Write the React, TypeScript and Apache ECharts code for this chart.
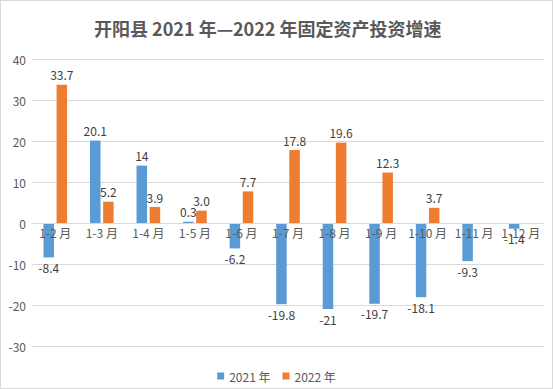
import React, { useEffect, useRef } from "react";
import * as echarts from "echarts";

const categories = ["1-2 月", "1-3 月", "1-4 月", "1-5 月", "1-6 月", "1-7 月", "1-8 月", "1-9 月", "1-10 月", "1-11 月", "1-12 月"];
const values2021 = [-8.4, 20.1, 14, 0.3, -6.2, -19.8, -21, -19.7, -18.1, -9.3, -1.4];
const values2022: (number | null)[] = [33.7, 5.2, 3.9, 3.0, 7.7, 17.8, 19.6, 12.3, 3.7, null, null];
const labels2021 = ["-8.4", "20.1", "14", "0.3", "-6.2", "-19.8", "-21", "-19.7", "-18.1", "-9.3", "-1.4"];
const labels2022 = ["33.7", "5.2", "3.9", "3.0", "7.7", "17.8", "19.6", "12.3", "3.7", "", ""];
const yTicks = [-30, -20, -10, 0, 10, 20, 30, 40];
const seriesNames = ["2021 年", "2022 年"];
const titleText = "开阳县 2021 年—2022 年固定资产投资增速";

const FONT = "'Noto Sans CJK SC', 'Noto Sans', sans-serif";

const GRID_TOP = 58;
const GRID_BOTTOM = 42;
const CHART_H = 387;

function makeData(vals: (number | null)[], labels: string[]) {
  return vals.map((v, i) =>
    v === null
      ? null
      : {
          value: v,
          label: {
            show: true,
            position: v >= 0 ? "top" : "bottom",
            formatter: labels[i],
          },
        }
  );
}

export default function App() {
  const ref = useRef<HTMLDivElement>(null);
  useEffect(() => {
    if (!ref.current) return;
    const chart = echarts.init(ref.current, null, { renderer: "svg" });
    const yMin = yTicks[0];
    const yMax = yTicks[yTicks.length - 1];
    const plotH = CHART_H - GRID_TOP - GRID_BOTTOM;
    const zeroFromBottom = ((0 - yMin) / (yMax - yMin)) * plotH;
    chart.setOption({
      animation: false,
      backgroundColor: "#ffffff",
      title: {
        text: titleText,
        left: 88,
        top: 13,
        textStyle: { fontFamily: FONT, fontSize: 18, fontWeight: "bold", color: "#595959" },
      },
      legend: {
        bottom: 1,
        left: "center",
        itemWidth: 7,
        itemHeight: 7,
        itemGap: 12,
        icon: "rect",
        textStyle: { fontFamily: FONT, fontSize: 12, color: "#595959" },
        data: seriesNames,
      },
      grid: { left: 31, right: 8, top: GRID_TOP, bottom: GRID_BOTTOM },
      xAxis: {
        type: "category",
        data: categories,
        offset: -zeroFromBottom,
        axisLine: { show: true, onZero: false, lineStyle: { color: "#d9d9d9" } },
        axisTick: { show: false },
        axisLabel: { margin: 3, fontFamily: FONT, fontSize: 12, color: "#595959", interval: 0 },
        z: 10,
      },
      yAxis: {
        type: "value",
        min: yMin,
        max: yMax,
        interval: 10,
        axisLine: { show: false },
        axisTick: { show: false },
        splitLine: { lineStyle: { color: "#d9d9d9" } },
        axisLabel: { margin: 6, fontFamily: FONT, fontSize: 12, color: "#595959" },
      },
      series: [
        {
          name: seriesNames[0],
          type: "bar",
          barWidth: 10.5,
          barGap: "25%",
          itemStyle: { color: "#5b9bd5" },
          label: { fontFamily: FONT, fontSize: 12, color: "#404040", distance: 4 },
          data: makeData(values2021, labels2021),
        },
        {
          name: seriesNames[1],
          type: "bar",
          barWidth: 10.5,
          barGap: "25%",
          itemStyle: { color: "#ed7d31" },
          label: { fontFamily: FONT, fontSize: 12, color: "#404040", distance: 4 },
          data: makeData(values2022, labels2022),
        },
      ],
    });
    return () => chart.dispose();
  }, []);
  return (
    <div
      style={{
        position: "fixed",
        left: 0,
        top: 0,
        width: 553,
        height: 389,
        boxSizing: "border-box",
        border: "1px solid #d9d9d9",
        background: "#fff",
      }}
    >
      <div ref={ref} style={{ width: 551, height: CHART_H }} />
    </div>
  );
}
